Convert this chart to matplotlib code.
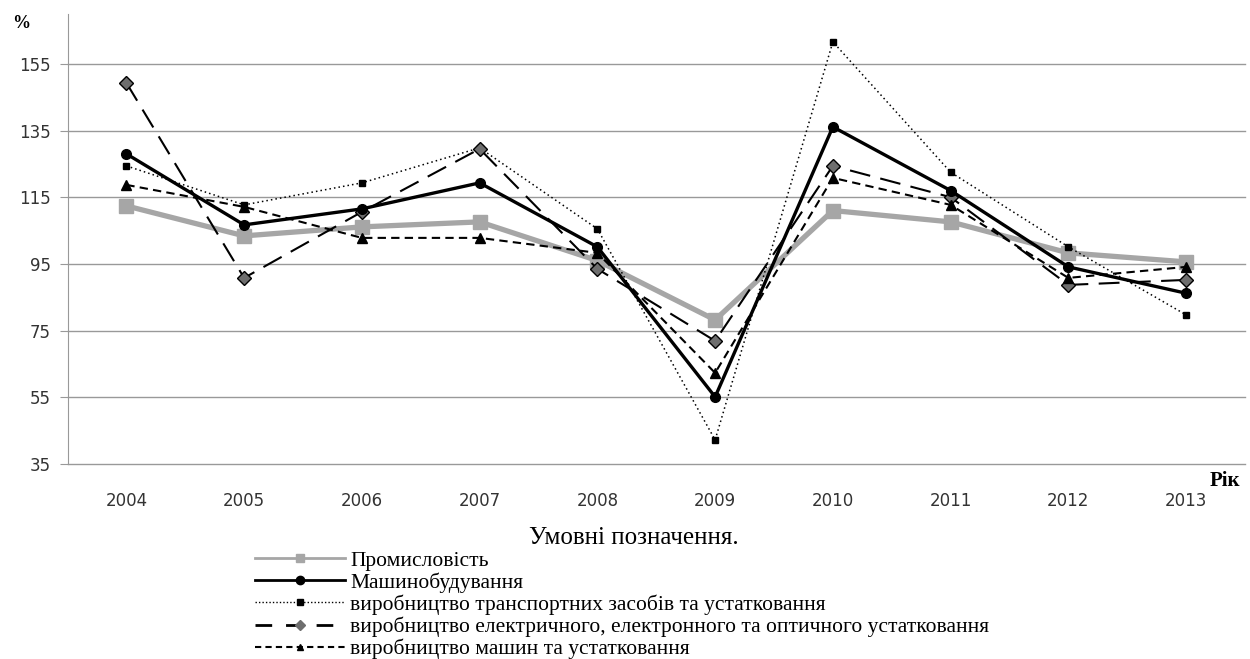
import matplotlib
matplotlib.use("Agg")
import matplotlib.pyplot as plt
from matplotlib.lines import Line2D

years = ["2004", "2005", "2006", "2007", "2008", "2009", "2010", "2011", "2012", "2013"]

promyslovist = [112.4, 103.4, 106.1, 107.6, 96.0, 78.2, 111.0, 107.6, 98.3, 95.6]
mashynobuduvannia = [128.0, 106.7, 111.5, 119.3, 100.1, 55.1, 136.1, 117.0, 94.1, 86.2]
transport = [124.4, 112.7, 119.3, 129.8, 105.5, 42.2, 161.6, 122.5, 100.1, 79.7]
elektro = [149.3, 90.8, 110.6, 129.5, 93.5, 71.9, 124.4, 115.0, 88.7, 90.2]
mashyny = [118.7, 112.1, 102.8, 102.8, 98.3, 62.3, 120.8, 112.7, 90.8, 94.1]

labels = ["Промисловість",
          "Машинобудування",
          "виробництво транспортних засобів та устатковання",
          "виробництво електричного, електронного та оптичного устатковання",
          "виробництво машин та устатковання"]

yticks = [35, 55, 75, 95, 115, 135, 155]

fig = plt.figure(figsize=(12.5, 6.59), dpi=100)
ax = fig.add_axes([0.054, 0.296, 0.942, 0.683])

x = range(len(years))
ax.plot(x, promyslovist, color='#a6a6a6', lw=3.8, marker='s', ms=10, zorder=2)
ax.plot(x, mashynobuduvannia, color='black', lw=2.4, marker='o', ms=7, zorder=5)
ax.plot(x, transport, color='black', lw=1.1, ls=(0, (1, 2)), marker='s', ms=5, zorder=3)
ax.plot(x, elektro, color='black', lw=1.5, ls=(0, (10, 5)), marker='D', ms=7,
        mfc='#6e6e6e', mec='black', mew=1, zorder=4)
ax.plot(x, mashyny, color='black', lw=1.5, ls=(0, (4, 2.5)), marker='^', ms=7, zorder=4)

ax.set_xlim(-0.5, len(years) - 0.5)
ax.set_ylim(35, 170)
ax.set_yticks(yticks)
ax.set_xticks(list(x))
ax.set_xticklabels(years)
ax.yaxis.grid(True, color='#999999', lw=1)
for gl in ax.get_ygridlines():
    gl.set_clip_on(False)
ax.set_axisbelow(True)
for s in ['top', 'right', 'bottom']:
    ax.spines[s].set_visible(False)
ax.spines['left'].set_color('#999999')
ax.tick_params(axis='y', length=6, color='#999999', labelsize=12, labelcolor='#333333', pad=6)
ax.tick_params(axis='x', length=0, labelsize=12, labelcolor='#333333', pad=20)

fig.text(0.01, 0.958, "%", fontsize=13, fontweight='bold', family='Liberation Serif')
fig.text(0.992, 0.262, "Рік", fontsize=15, fontweight='bold', family='Liberation Serif', ha='right')

fig.text(0.507, 0.183, "Умовні позначення.", fontsize=18, family='Liberation Serif',
         ha='center', va='center')

handles = [
    Line2D([], [], color='#a6a6a6', lw=2, marker='s', ms=6),
    Line2D([], [], color='black', lw=2, marker='o', ms=6),
    Line2D([], [], color='black', lw=1, ls=(0, (1, 1.5)), marker='s', ms=5),
    Line2D([], [], color='black', lw=2, ls=(0, (6, 5)), marker='D', ms=5, mfc='#6e6e6e', mec='#6e6e6e'),
    Line2D([], [], color='black', lw=1.5, ls=(0, (3, 2)), marker='^', ms=5),
]
fig.legend(handles, labels, loc='upper left', bbox_to_anchor=(0.195, 0.181),
           frameon=False, prop={'family': 'Liberation Serif', 'size': 15.5},
           handlelength=4.2, handletextpad=0.25, labelspacing=0.08, borderpad=0)

fig.savefig("out.png", dpi=100)
